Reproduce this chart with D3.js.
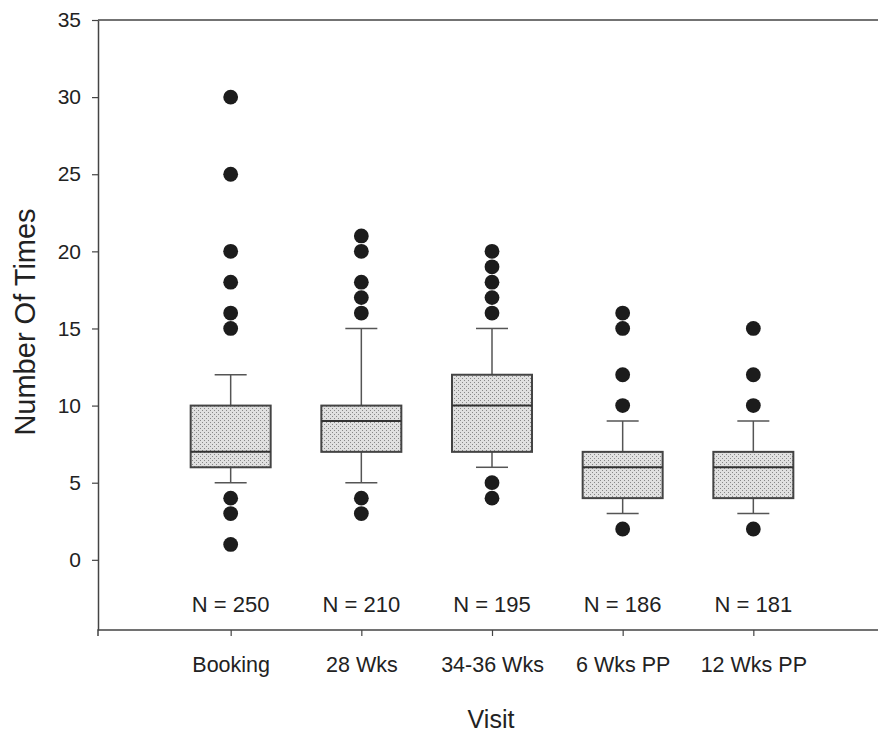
<!DOCTYPE html>
<html>
<head>
<meta charset="utf-8">
<script src="https://cdn.jsdelivr.net/npm/d3@7"></script>
<style>
  html, body { margin: 0; padding: 0; background: #ffffff; }
  svg { display: block; }
  text { font-family: "Liberation Sans", Arial, sans-serif; fill: #222; }
</style>
</head>
<body>
<div id="chart"></div>
<script>
const categories = ["Booking", "28 Wks", "34-36 Wks", "6 Wks PP", "12 Wks PP"];
const nCounts = [250, 210, 195, 186, 181];
const q1 = [6, 7, 7, 4, 4];
const medians = [7, 9, 10, 6, 6];
const q3 = [10, 10, 12, 7, 7];
const whiskerLow = [5, 5, 6, 3, 3];
const whiskerHigh = [12, 15, 15, 9, 9];
const outliers = [
  [30, 25, 20, 18, 16, 15, 4, 3, 1],
  [21, 20, 18, 17, 16, 4, 3],
  [20, 19, 18, 17, 16, 5, 4],
  [16, 15, 12, 10, 2],
  [15, 12, 10, 2]
];
const yTicks = [0, 5, 10, 15, 20, 25, 30, 35];
const yLabel = "Number Of Times";
const xLabel = "Visit";

(function () {
const W = 878, H = 732;
const mLeft = 98, mRight = 884, mTop = 20, mBottom = 630;

const svg = d3.select("#chart").append("svg").attr("width", W).attr("height", H);

const defs = svg.append("defs");
const pat = defs.append("pattern").attr("id", "stipple")
  .attr("patternUnits", "userSpaceOnUse").attr("width", 4).attr("height", 4);
pat.append("rect").attr("width", 4).attr("height", 4).attr("fill", "#e0e0e0");
pat.append("rect").attr("x", 0).attr("y", 0).attr("width", 1).attr("height", 1).attr("fill", "#888");
pat.append("rect").attr("x", 2).attr("y", 2).attr("width", 1).attr("height", 1).attr("fill", "#888");

const x = d3.scalePoint().domain(categories).range([100, mRight]).padding(1);
const y = d3.scaleLinear().domain([-4.55, 35]).range([mBottom, mTop]);

svg.append("line").attr("x1", mLeft).attr("x2", W).attr("y1", y(35)).attr("y2", y(35))
  .attr("stroke", "#444").attr("stroke-width", 1.5);

const yAxis = svg.append("g").attr("transform", `translate(${mLeft},0)`)
  .call(d3.axisLeft(y).tickValues(yTicks).tickSize(6).tickSizeOuter(0).tickPadding(11));
yAxis.select(".domain").attr("stroke", "#444").attr("stroke-width", 1.5);
yAxis.selectAll(".tick line").attr("stroke", "#444").attr("stroke-width", 1.2);
yAxis.selectAll(".tick text").style("font-size", "21px").style("font-family", "Liberation Sans, Arial, sans-serif").attr("fill", "#222");

const xAxis = svg.append("g").attr("transform", `translate(0,${mBottom})`)
  .call(d3.axisBottom(x).tickSize(6).tickSizeOuter(6).tickPadding(20));
xAxis.select(".domain").attr("stroke", "#444").attr("stroke-width", 1.5)
  .attr("d", `M${mLeft},6V0H${W}`);
xAxis.selectAll(".tick line").attr("stroke", "#444").attr("stroke-width", 1.2);
xAxis.selectAll(".tick text").style("font-size", "21.5px").style("font-family", "Liberation Sans, Arial, sans-serif").attr("fill", "#222")
  .attr("y", 0).attr("dy", "42px");

const boxW = 80, capW = 32;
const g = svg.append("g");

categories.forEach((c, i) => {
  const cx = x(c);
  g.append("line").attr("x1", cx).attr("x2", cx).attr("y1", y(q3[i])).attr("y2", y(whiskerHigh[i]))
    .attr("stroke", "#555").attr("stroke-width", 1.5);
  g.append("line").attr("x1", cx).attr("x2", cx).attr("y1", y(q1[i])).attr("y2", y(whiskerLow[i]))
    .attr("stroke", "#555").attr("stroke-width", 1.5);
  g.append("line").attr("x1", cx - capW / 2).attr("x2", cx + capW / 2).attr("y1", y(whiskerHigh[i])).attr("y2", y(whiskerHigh[i]))
    .attr("stroke", "#555").attr("stroke-width", 1.5);
  g.append("line").attr("x1", cx - capW / 2).attr("x2", cx + capW / 2).attr("y1", y(whiskerLow[i])).attr("y2", y(whiskerLow[i]))
    .attr("stroke", "#555").attr("stroke-width", 1.5);
  g.append("rect").attr("x", cx - boxW / 2).attr("y", y(q3[i]))
    .attr("width", boxW).attr("height", y(q1[i]) - y(q3[i]))
    .attr("fill", "url(#stipple)").attr("stroke", "#444").attr("stroke-width", 2);
  g.append("line").attr("x1", cx - boxW / 2).attr("x2", cx + boxW / 2).attr("y1", y(medians[i])).attr("y2", y(medians[i]))
    .attr("stroke", "#333").attr("stroke-width", 2);
  g.selectAll(null).data(outliers[i]).enter().append("circle")
    .attr("cx", cx).attr("cy", d => y(d)).attr("r", 7.4).attr("fill", "#1c1c1c");
  g.append("text").attr("x", cx).attr("y", 612).attr("text-anchor", "middle")
    .style("font-size", "22px").text("N = " + nCounts[i]);
});

svg.append("text").attr("transform", `translate(35,322) rotate(-90)`)
  .attr("text-anchor", "middle").style("font-size", "29px").text(yLabel);
svg.append("text").attr("x", (mLeft + mRight) / 2).attr("y", 728)
  .attr("text-anchor", "middle").style("font-size", "25px").text(xLabel);
})();
</script>
</body>
</html>
